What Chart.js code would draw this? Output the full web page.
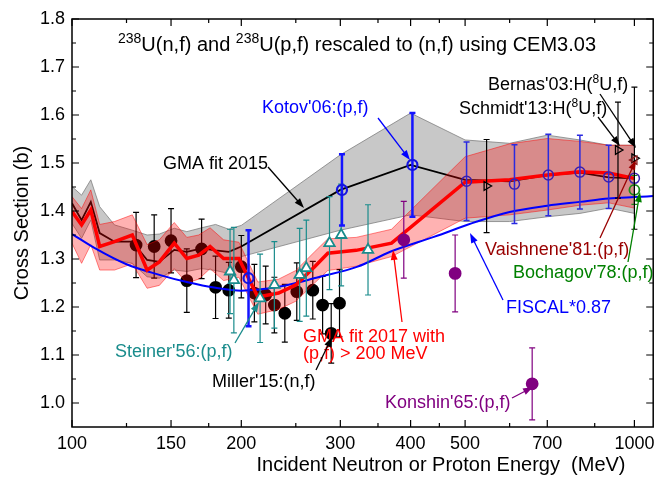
<!DOCTYPE html>
<html lang="en">
<head>
  <meta charset="UTF-8">
  <title>238U fission cross section</title>
  <script src="https://cdn.jsdelivr.net/npm/chart.js"></script>
  <style>
    body { margin: 0; background: #fff; }
    #wrap { width: 661px; height: 478px; }
  </style>
</head>
<body>
  <div id="wrap"><canvas id="chart" width="661" height="478"></canvas></div>

  <script>
    // axis ticks
    const xTicks = [100, 150, 200, 300, 400, 500, 700, 1000];
    const xMinor = [125, 175, 250, 350, 450, 600, 850];
    const yTicks = [1.0, 1.1, 1.2, 1.3, 1.4, 1.5, 1.6, 1.7, 1.8];
    const yMinor = [1.05, 1.15, 1.25, 1.35, 1.45, 1.55, 1.65, 1.75];

    // GMA fit 2015 (line + uncertainty band)
    const gma15E  = [100, 104, 108, 112, 119, 128, 136, 143, 152, 160, 170, 180, 190, 200, 300, 400, 500, 600, 700, 800, 900, 1000];
    const gma15   = [1.416, 1.381, 1.419, 1.354, 1.336, 1.336, 1.298, 1.294, 1.319, 1.315, 1.322, 1.318, 1.315, 1.326, 1.444, 1.496, 1.465, 1.462, 1.475, 1.480, 1.470, 1.468];
    const gma15Up = [1.451, 1.433, 1.465, 1.409, 1.371, 1.360, 1.350, 1.352, 1.364, 1.357, 1.365, 1.372, 1.362, 1.370, 1.517, 1.604, 1.548, 1.541, 1.558, 1.548, 1.537, 1.537];
    const gma15Lo = [1.374, 1.343, 1.381, 1.298, 1.298, 1.291, 1.263, 1.260, 1.277, 1.274, 1.280, 1.276, 1.270, 1.305, 1.360, 1.392, 1.378, 1.378, 1.388, 1.395, 1.406, 1.395];

    // GMA fit 2017 (line + uncertainty band)
    const gma17E  = [100, 104, 108, 112, 119, 128, 136, 143, 152, 160, 168, 176, 186, 198, 214, 233, 250, 270, 285, 320, 370, 500, 600, 700, 800, 900, 1000];
    const gma17   = [1.399, 1.371, 1.402, 1.326, 1.336, 1.350, 1.277, 1.294, 1.333, 1.301, 1.308, 1.326, 1.301, 1.301, 1.221, 1.229, 1.246, 1.284, 1.312, 1.318, 1.333, 1.460, 1.465, 1.475, 1.482, 1.479, 1.468];
    const gma17Up = [1.430, 1.405, 1.444, 1.372, 1.378, 1.392, 1.330, 1.340, 1.376, 1.345, 1.350, 1.365, 1.340, 1.335, 1.252, 1.258, 1.276, 1.315, 1.342, 1.345, 1.362, 1.513, 1.540, 1.551, 1.545, 1.537, 1.537];
    const gma17Lo = [1.333, 1.291, 1.330, 1.277, 1.277, 1.290, 1.239, 1.245, 1.280, 1.250, 1.258, 1.280, 1.255, 1.262, 1.185, 1.195, 1.212, 1.250, 1.276, 1.285, 1.305, 1.385, 1.392, 1.402, 1.412, 1.417, 1.406];

    // FISCAL*0.87
    const fiscalE = [100, 110, 125, 143, 160, 180, 200, 233, 274, 322, 368, 440, 525, 600, 700, 800, 900, 1000, 1080];
    const fiscal  = [1.352, 1.322, 1.289, 1.267, 1.252, 1.240, 1.234, 1.242, 1.262, 1.284, 1.315, 1.346, 1.378, 1.398, 1.411, 1.419, 1.426, 1.429, 1.431];

    // experiments: energy, cross section, uncertainty
    const millerE   = [130, 140, 150, 160, 170, 180, 190, 200, 211, 221, 229, 239, 251, 268, 279, 289, 299];
    const millerY   = [1.329, 1.326, 1.338, 1.255, 1.321, 1.241, 1.235, 1.284, 1.229, 1.225, 1.204, 1.187, 1.232, 1.235, 1.204, 1.145, 1.208];
    const millerErr = [0.068, 0.066, 0.067, 0.066, 0.062, 0.065, 0.058, 0.065, 0.060, 0.060, 0.058, 0.060, 0.060, 0.060, 0.060, 0.062, 0.070];

    const steinerE   = [191, 194, 216, 229, 254, 261, 287, 301, 336];
    const steinerY   = [1.274, 1.256, 1.218, 1.246, 1.267, 1.281, 1.333, 1.350, 1.319];
    const steinerErr = [0.088, 0.110, 0.092, 0.090, 0.097, 0.100, 0.097, 0.106, 0.094];

    const kotovE   = [206, 302, 403];
    const kotovY   = [1.260, 1.444, 1.496];
    const kotovErr = [0.100, 0.074, 0.108];
    const kotovHiE   = [503, 612, 703, 800, 900, 1000];
    const kotovHiY   = [1.462, 1.456, 1.475, 1.481, 1.471, 1.468];
    const kotovHiErr = [0.082, 0.082, 0.085, 0.077, 0.066, 0.0];

    const konshinE   = [389, 480, 658];
    const konshinY   = [1.340, 1.270, 1.040];
    const konshinErr = [0.080, 0.080, 0.075];

    const bochagovE = [1000], bochagovY = [1.444], bochagovErr = [0.030];
    const vaishE = [1000], vaishY = [1.506], vaishErr = [0.0];
    const bernasE = [1000], bernasY = [1.510], bernasErr = [0.148];
    const schmidtE = [546, 935], schmidtY = [1.452, 1.527], schmidtErr = [0.097, 0.100];

    const pts = (E, v) => E.map((e, i) => ({ x: e, y: v[i] }));
    const FONT = '"Liberation Sans", Arial, sans-serif';

    // vertical error bars, drawn before each dataset's markers
    const errBars = {
      id: 'errBars',
      beforeDatasetDraw(chart, args) {
        const ds = chart.data.datasets[args.index];
        if (!ds.err) return;
        const { ctx, scales: { x, y } } = chart;
        ctx.save();
        ctx.strokeStyle = ds.errColor || ds.borderColor;
        ctx.lineWidth = ds.errWidth || 1.2;
        ds.data.forEach((p, i) => {
          if (!ds.err[i]) return;
          const px = x.getPixelForValue(p.x);
          const t = y.getPixelForValue(p.y + ds.err[i]);
          const b = y.getPixelForValue(p.y - ds.err[i]);
          ctx.beginPath();
          ctx.moveTo(px, t); ctx.lineTo(px, b);
          ctx.moveTo(px - 3, t); ctx.lineTo(px + 3, t);
          ctx.moveTo(px - 3, b); ctx.lineTo(px + 3, b);
          ctx.stroke();
        });
        ctx.restore();
      }
    };

    // frame with inward ticks on all four sides
    const frame = {
      id: 'frame',
      afterDatasetsDraw(chart) {
        const { ctx, chartArea: a, scales: { x, y } } = chart;
        ctx.save();
        ctx.strokeStyle = '#000';
        ctx.lineWidth = 1.5;
        ctx.strokeRect(a.left, a.top, a.right - a.left, a.bottom - a.top);
        ctx.lineWidth = 1.2;
        ctx.beginPath();
        const tx = (v, len) => {
          const p = x.getPixelForValue(v);
          ctx.moveTo(p, a.bottom); ctx.lineTo(p, a.bottom - len);
          ctx.moveTo(p, a.top); ctx.lineTo(p, a.top + len);
        };
        const ty = (v, len) => {
          const p = y.getPixelForValue(v);
          ctx.moveTo(a.left, p); ctx.lineTo(a.left + len, p);
          ctx.moveTo(a.right, p); ctx.lineTo(a.right - len, p);
        };
        xTicks.forEach(v => tx(v, 7));
        xMinor.forEach(v => tx(v, 4));
        yTicks.forEach(v => ty(v, 7));
        yMinor.forEach(v => ty(v, 4));
        ctx.stroke();
        ctx.restore();
      }
    };

    // text with superscript parts
    function richText(ctx, parts, x, y, align, size) {
      const big = size + 'px ' + FONT, small = Math.round(size * 0.68) + 'px ' + FONT;
      let w = 0;
      parts.forEach(p => { ctx.font = p.sup ? small : big; w += ctx.measureText(p.t).width; });
      let cx = align === 'center' ? x - w / 2 : x;
      ctx.textAlign = 'left';
      ctx.textBaseline = 'alphabetic';
      parts.forEach(p => {
        ctx.font = p.sup ? small : big;
        ctx.fillText(p.t, cx, p.sup ? y - size * 0.38 : y);
        cx += ctx.measureText(p.t).width;
      });
    }

    function arrow(ctx, x1, y1, x2, y2, color) {
      const ang = Math.atan2(y2 - y1, x2 - x1), L = 10, W = 3.5;
      ctx.strokeStyle = color; ctx.fillStyle = color; ctx.lineWidth = 1.3;
      ctx.beginPath();
      ctx.moveTo(x1, y1);
      ctx.lineTo(x2 - Math.cos(ang) * L * 0.8, y2 - Math.sin(ang) * L * 0.8);
      ctx.stroke();
      ctx.beginPath();
      ctx.moveTo(x2, y2);
      ctx.lineTo(x2 - L * Math.cos(ang) + W * Math.sin(ang), y2 - L * Math.sin(ang) - W * Math.cos(ang));
      ctx.lineTo(x2 - L * Math.cos(ang) - W * Math.sin(ang), y2 - L * Math.sin(ang) + W * Math.cos(ang));
      ctx.closePath();
      ctx.fill();
    }

    const labels = [
      { parts: [{ t: 'GMA fit 2015' }], x: 163, y: 169, c: '#000', a: [268, 167, 304, 208] },
      { parts: [{ t: "Kotov'06:(p,f)" }], x: 262, y: 113, c: '#0000ff', a: [378, 118, 410, 160] },
      { parts: [{ t: "Bernas'03:H(" }, { t: '8', sup: true }, { t: 'U,f)' }], x: 488, y: 90, c: '#000', a: [600, 94, 636, 148] },
      { parts: [{ t: "Schmidt'13:H(" }, { t: '8', sup: true }, { t: 'U,f)' }], x: 459, y: 114, c: '#000', a: [598, 117, 620, 146] },
      { parts: [{ t: "Vaishnene'81:(p,f)" }], x: 485, y: 255, c: '#990000', a: [600, 238, 636, 160] },
      { parts: [{ t: "Bochagov'78:(p,f)" }], x: 513, y: 278, c: '#008000', a: [628, 262, 640, 192] },
      { parts: [{ t: 'FISCAL*0.87' }], x: 506, y: 313, c: '#0000ff', a: [503, 300, 470, 233] },
      { parts: [{ t: 'GMA fit 2017 with' }], x: 303, y: 342, c: '#ff0000', a: [402, 322, 393, 250] },
      { parts: [{ t: '(p,f) > 200 MeV' }], x: 303, y: 359, c: '#ff0000' },
      { parts: [{ t: "Steiner'56:(p,f)" }], x: 115, y: 357, c: '#1a8c8c', a: [235, 343, 259, 302] },
      { parts: [{ t: "Miller'15:(n,f)" }], x: 212, y: 387, c: '#000', a: [316, 370, 332, 337] },
      { parts: [{ t: "Konshin'65:(p,f)" }], x: 385, y: 408, c: '#800080', a: [512, 398, 533, 387] }
    ];

    const notes = {
      id: 'notes',
      afterDraw(chart) {
        const ctx = chart.ctx;
        ctx.save();
        ctx.fillStyle = '#000';
        richText(ctx, [{ t: '238', sup: true }, { t: 'U(n,f) and ' }, { t: '238', sup: true }, { t: 'U(p,f) rescaled to (n,f) using CEM3.03' }], 357, 51, 'center', 20);
        labels.forEach(l => {
          ctx.fillStyle = l.c;
          richText(ctx, l.parts, l.x, l.y, 'left', 18);
          if (l.a) arrow(ctx, l.a[0], l.a[1], l.a[2], l.a[3], l.c);
        });
        // axis titles
        ctx.fillStyle = '#000';
        ctx.font = '20px ' + FONT;
        ctx.textAlign = 'center';
        ctx.textBaseline = 'middle';
        ctx.fillText('Incident Neutron or Proton Energy  (MeV)', 441, 465);
        ctx.translate(22, 223);
        ctx.rotate(-Math.PI / 2);
        ctx.fillText('Cross Section (b)', 0, 0);
        ctx.restore();
      }
    };

    const lineSet = (E, v, color, width, order) => ({
      data: pts(E, v), borderColor: color, borderWidth: width, pointRadius: 0,
      fill: false, tension: 0, order
    });

    const markSet = (E, v, err, opts) => Object.assign({
      data: pts(E, v), err, showLine: false, pointRadius: 5, pointBorderWidth: 1.8
    }, opts);

    new Chart(document.getElementById('chart'), {
      type: 'line',
      data: {
        datasets: [
          // grey band of GMA 2015
          Object.assign(lineSet(gma15E, gma15Up, '#808080', 0.8, 20), { fill: '+1', backgroundColor: 'rgb(200,200,200)' }),
          lineSet(gma15E, gma15Lo, '#808080', 0.8, 19),
          lineSet(gma15E, gma15, '#000000', 1.8, 18),
          markSet(millerE, millerY, millerErr, { pointStyle: 'circle', pointRadius: 5.5, backgroundColor: '#000', borderColor: '#000', errColor: '#000', order: 17 }),
          // red band of GMA 2017
          Object.assign(lineSet(gma17E, gma17Up, 'rgba(255,0,0,0.6)', 0.8, 16), { fill: '+1', backgroundColor: 'rgba(255,0,0,0.3)' }),
          lineSet(gma17E, gma17Lo, 'rgba(255,0,0,0.6)', 0.8, 15),
          Object.assign(lineSet(fiscalE, fiscal, '#0000ff', 2, 14), { cubicInterpolationMode: 'monotone' }),
          lineSet(gma17E, gma17, '#ff0000', 3.5, 13),
          markSet(steinerE, steinerY, steinerErr, { pointStyle: 'triangle', pointRadius: 6, backgroundColor: '#fff', borderColor: '#1a8c8c', errColor: '#1a8c8c', order: 12 }),
          markSet(kotovE, kotovY, kotovErr, { pointStyle: 'circle', backgroundColor: 'rgba(0,0,0,0)', borderColor: '#1414e0', errColor: '#1414ff', errWidth: 2.5, pointBorderWidth: 2.2, order: 11 }),
          markSet(kotovHiE, kotovHiY, kotovHiErr, { pointStyle: 'circle', backgroundColor: 'rgba(0,0,0,0)', borderColor: '#3a1fb0', errColor: '#2a2ae0', errWidth: 1.5, pointBorderWidth: 1.5, order: 11 }),
          markSet(konshinE, konshinY, konshinErr, { pointStyle: 'circle', pointRadius: 5.5, backgroundColor: '#800080', borderColor: '#800080', order: 10 }),
          markSet(bochagovE, bochagovY, bochagovErr, { pointStyle: 'circle', backgroundColor: 'rgba(0,0,0,0)', borderColor: '#1a8c1a', order: 9 }),
          markSet(bernasE, bernasY, bernasErr, { pointStyle: 'triangle', rotation: 90, backgroundColor: 'rgba(0,0,0,0)', borderColor: '#000', pointBorderWidth: 1.3, order: 8 }),
          markSet(schmidtE, schmidtY, schmidtErr, { pointStyle: 'triangle', rotation: 90, backgroundColor: 'rgba(0,0,0,0)', borderColor: '#000', pointBorderWidth: 1.3, order: 7 }),
          markSet(vaishE, vaishY, vaishErr, { pointStyle: 'triangle', rotation: -90, backgroundColor: 'rgba(0,0,0,0)', borderColor: '#8b1a1a', pointBorderWidth: 1.3, order: 6 })
        ]
      },
      options: {
        responsive: false,
        animation: false,
        events: [],
        layout: { padding: { left: 0, right: 3, top: 19, bottom: 0 } },
        plugins: { legend: { display: false }, tooltip: { enabled: false } },
        scales: {
          x: {
            type: 'logarithmic',
            min: 100,
            max: 1080,
            grid: { display: false, drawTicks: false },
            border: { display: false },
            afterBuildTicks: s => { s.ticks = xTicks.map(v => ({ value: v })); },
            afterFit: s => { s.height = 51; },
            ticks: {
              autoSkip: false, maxRotation: 0, padding: 6, color: '#000',
              font: { family: FONT, size: 18 },
              callback: v => String(v)
            }
          },
          y: {
            min: 0.95,
            max: 1.8,
            grid: { display: false, drawTicks: false },
            border: { display: false },
            afterBuildTicks: s => { s.ticks = yTicks.map(v => ({ value: v })); },
            afterFit: s => { s.width = 72; },
            ticks: {
              padding: 7, color: '#000',
              font: { family: FONT, size: 18 },
              callback: v => v.toFixed(1)
            }
          }
        }
      },
      plugins: [errBars, frame, notes]
    });
  </script>
</body>
</html>
